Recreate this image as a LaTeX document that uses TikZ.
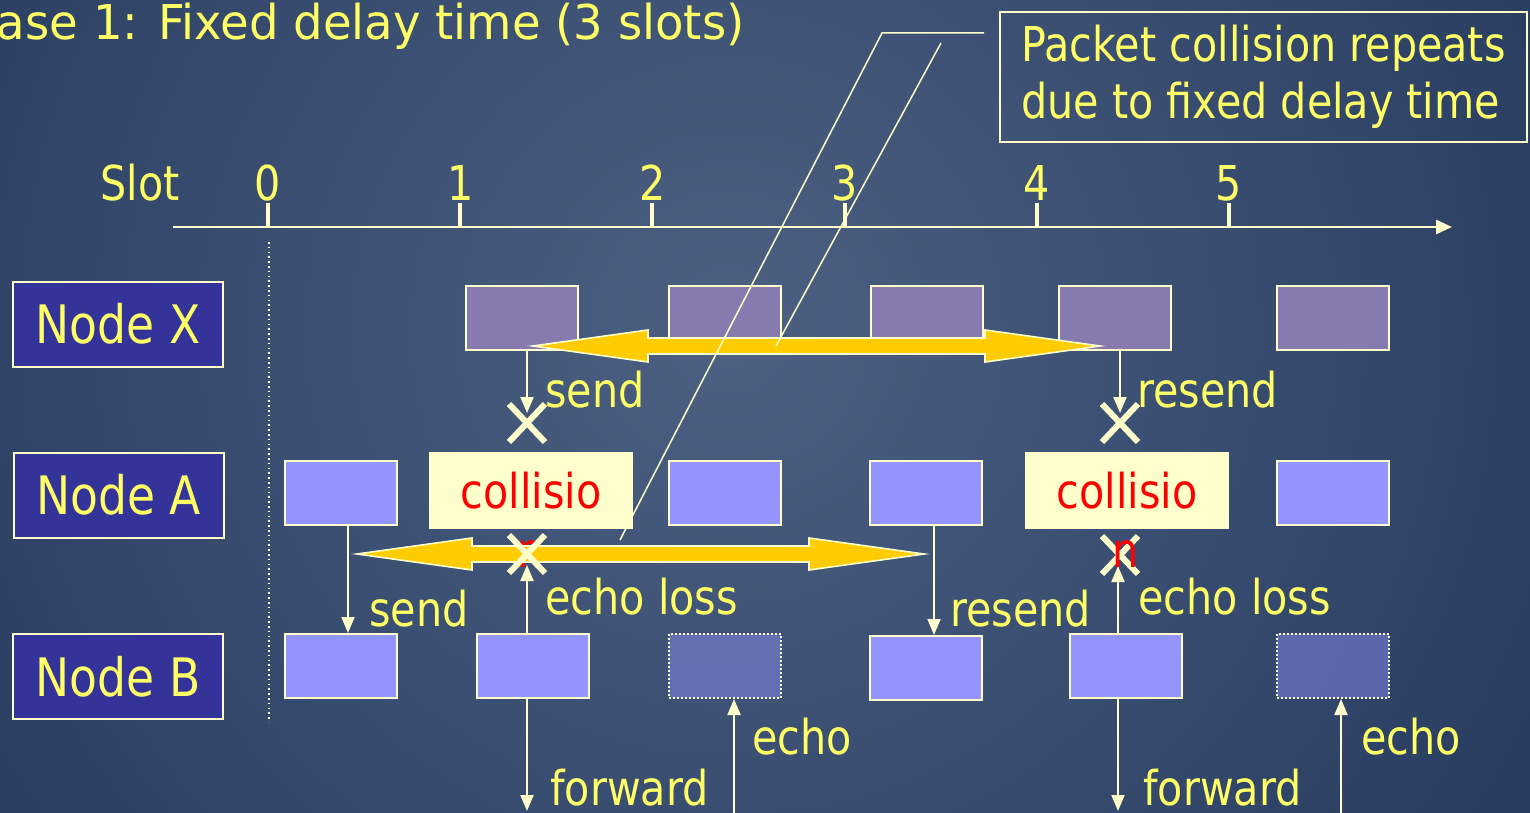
\documentclass[tikz,border=0pt]{standalone}
\usepackage{fontspec}
\setmainfont{DejaVu Sans}[FakeStretch=0.86]
\newfontfamily\titlefont{DejaVu Sans}[FakeStretch=0.97]
\usetikzlibrary{arrows.meta,shapes.misc}

\definecolor{bgcentre}{RGB}{76,96,130}
\definecolor{bgedge}{RGB}{20,42,78}
\definecolor{linecol}{RGB}{255,255,204}
\definecolor{txtyellow}{RGB}{255,255,102}
\definecolor{nodeblue}{RGB}{51,51,153}
\definecolor{slotpurple}{RGB}{134,122,174}
\definecolor{slotblue}{RGB}{148,148,255}
\definecolor{hitfill}{RGB}{255,255,204}
\definecolor{arrowyellow}{RGB}{255,204,0}

\begin{document}
\begin{tikzpicture}[x=0.5pt,y=-0.5pt,
  every node/.style={inner sep=0pt, text=txtyellow, font=\fontsize{24}{28.5}\selectfont},
  namebox/.style={draw=linecol, line width=1pt, fill=nodeblue, minimum width=105pt, minimum height=42.5pt, font=\fontsize{26.5}{30}\selectfont},
  slotx/.style={draw=linecol, line width=1pt, fill=slotpurple, minimum width=56pt, minimum height=32pt},
  slota/.style={slotx, fill=slotblue},
  lostbox/.style={draw=linecol, line width=1pt, dash pattern=on 1pt off 1pt, fill=slotblue, fill opacity=0.45, minimum width=56pt, minimum height=32pt},
  hitbox/.style={fill=hitfill, text=red, minimum width=102pt, minimum height=38.5pt},
  lossmark/.style={cross out, draw=linecol, line width=3pt, minimum width=15pt, minimum height=16pt},
  conn/.style={draw=linecol, line width=1pt, -{Triangle[width=6.5pt,length=8pt]}},
  ybar/.style={fill=arrowyellow, draw=linecol, line width=0.8pt},
  thinline/.style={draw=linecol, line width=0.75pt}]

\useasboundingbox (0,0) rectangle (1530,813);
\clip (0,0) rectangle (1530,813);
\shade[inner color=bgcentre, outer color=bgedge] (-670,-1070) rectangle (2130,1730);

% title
\node[anchor=base east, font=\titlefont\fontsize{24}{28.5}\selectfont] (title) at (745,40) {Case 1: Fixed delay time (3 slots)};

% time axis
\coordinate (ax0) at (173,227);
\coordinate (ax1) at (1452,227);
\draw[linecol, line width=1.4pt, -{Triangle[width=7pt,length=8pt]}] (ax0) -- (ax1);
\node[anchor=base west] (slot) at (100,200) {Slot};
\foreach \i in {0,...,5} {
  \pgfmathsetmacro\tx{268+192.2*\i}
  \draw[linecol, line width=2pt] (\tx,227) -- (\tx,203);
  \node[anchor=base] (s\i) at (\tx,200) {\i};
}
\draw[linecol, line width=0.8pt, dash pattern=on 0.8pt off 1.6pt] (269,242) -- (269,722);

% nodes
\node[namebox] (nX) at (118,324) {Node X};
\node[namebox] (nA) at (118.5,495) {Node A};
\node[namebox] (nB) at (118,676.5) {Node B};

% node X slots
\node[slotx] (x1) at (522,318) {};
\node[slotx] (x2) at (725,318) {};
\node[slotx] (x3) at (927,318) {};
\node[slotx] (x4) at (1114.5,318) {};
\node[slotx] (x5) at (1333,318) {};

% node A slots
\node[slota] (a0) at (341,493) {};
\node[slota] (a2) at (725,493) {};
\node[slota] (a3) at (926,493) {};
\node[slota] (a5) at (1333,493) {};
\node[hitbox] (h1) at (531,490.5) {collisio};
\node[hitbox] (h4) at (1127,490.5) {collisio};

% node B slots
\node[slota] (b0) at (341,666) {};
\node[slota] (b1) at (533,666) {};
\node[lostbox] (b2) at (725,666) {};
\node[slota] (b3) at (926,668) {};
\node[slota] (b4) at (1126,666) {};
\node[lostbox] (b5) at (1333,666) {};

% collision points
\coordinate (k1) at (527,423);
\coordinate (k2) at (1120,423);
\coordinate (k3) at (527,554);
\coordinate (k4) at (1120,555);
\coordinate (f1) at (527,811);
\coordinate (f2) at (1118,811);
\coordinate (e1) at (734,815);
\coordinate (e2) at (1341,815);

% transmissions
\draw[conn] (k1 |- x1.south) -- ([yshift=5pt]k1);
\draw[conn] (k2 |- x4.south) -- ([yshift=5pt]k2);
\draw[conn] ([xshift=3.5pt]a0.south) -- ([xshift=3.5pt]b0.north);
\draw[conn] ([xshift=4pt]a3.south) -- ([xshift=4pt]b3.north);
\draw[conn] (k3 |- b1.north) -- ([yshift=-5.5pt]k3);
\draw[conn] ([xshift=-4pt]b4.north) -- ([yshift=-5.5pt,xshift=-1pt]k4);
\draw[conn] (f1 |- b1.south) -- (f1);
\draw[conn] (f2 |- b4.south) -- (f2);
\draw[conn] (e1) -- (e1 |- b2.south);
\draw[conn] (e2) -- (e2 |- b5.south);

\node[anchor=base west] (l1) at (545,407) {send};
\node[anchor=base west] (l2) at (1137,407) {resend};
\node[anchor=base west] (l3) at (369,626) {send};
\node[anchor=base west] (l4) at (950,626) {resend};
\node[anchor=base west] (l5) at (545,614) {echo loss};
\node[anchor=base west] (l6) at (1138,614) {echo loss};
\node[anchor=base west] (l7) at (550,805) {forward};
\node[anchor=base west] (l8) at (1143,805) {forward};
\node[anchor=base west] (l9) at (752,754) {echo};
\node[anchor=base west] (l10) at (1361,754) {echo};

\node[anchor=base, text=red] (n1) at (531,567) {n};

% fixed delay span
\foreach \lx/\ly in {533/346, 357/554}
  \draw[ybar] (\lx,\ly) -- ++(115,-16) -- ++(0,8) -- ++(337,0) -- ++(0,-8) -- ++(115,16)
    -- ++(-115,16) -- ++(0,-8) -- ++(-337,0) -- ++(0,8) -- cycle;

\node[lossmark] (c1) at (k1) {};
\node[lossmark] (c2) at (k2) {};
\node[lossmark] (c3) at (k3) {};
\node[lossmark] (c4) at (k4) {};
\node[anchor=base, text=red] (n2) at (1126,567) {n};

% note
\node[draw=linecol, line width=1pt, minimum width=263.5pt, minimum height=65pt, align=left] (note) at (1263.5,77)
  {Packet collision repeats\\due to fixed delay time};
\coordinate (p1) at (984,33);
\coordinate (p2) at (882,33);
\coordinate (p3) at (620,540);
\coordinate (q1) at (941,43);
\coordinate (q2) at (776,346);
\draw[thinline] (p1) -- (p2) -- (p3);
\draw[thinline] (q1) -- (q2);
\end{tikzpicture}
\end{document}
